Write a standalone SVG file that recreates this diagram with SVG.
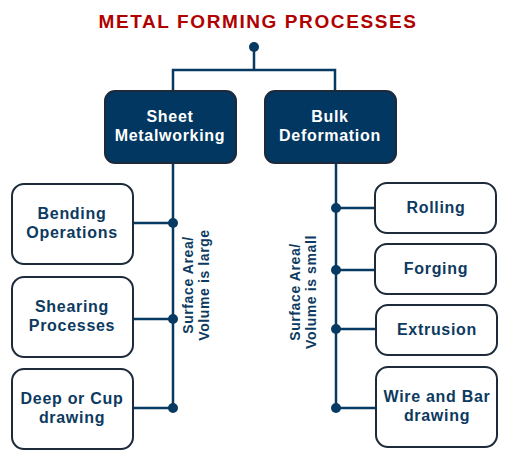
<svg xmlns="http://www.w3.org/2000/svg" width="509" height="462" viewBox="0 0 509 462">
<style>
.t{font-family:"Liberation Sans",Arial,sans-serif;font-weight:bold;font-size:16px;fill:#0d3a60;text-anchor:middle;letter-spacing:0.7px}
.w{fill:#ffffff}
.b{fill:#ffffff;stroke:#1c2a3a;stroke-width:2}
.h{fill:#023761;stroke:#1c2a3a;stroke-width:2}
.l{stroke:#063a62;stroke-width:2.5;fill:none}
.d{fill:#063a62}
.s{font-family:"Liberation Sans",Arial,sans-serif;font-weight:bold;font-size:14px;fill:#0d3a60;text-anchor:middle;letter-spacing:0.6px}
</style>
<rect width="509" height="462" fill="#ffffff"/>
<text x="258" y="28" style="font-family:'Liberation Sans',Arial,sans-serif;font-weight:bold;font-size:19px;fill:#b00000;text-anchor:middle;letter-spacing:1.6px">METAL FORMING PROCESSES</text>
<g id="connectors">
<path class="l" d="M254 47V70M173 91V70H335V91"/>
<path class="l" d="M173 163V408M133 223H173M133 319H173M133 408H173"/>
<path class="l" d="M336 163V408M336 208H375M336 270H375M336 329H375M336 408H375"/>
<circle class="d" cx="254" cy="47" r="5"/>
<circle class="d" cx="173" cy="223" r="5"/>
<circle class="d" cx="173" cy="319" r="5"/>
<circle class="d" cx="173" cy="408" r="5"/>
<circle class="d" cx="336" cy="208" r="5"/>
<circle class="d" cx="336" cy="270" r="5"/>
<circle class="d" cx="336" cy="329" r="5"/>
<circle class="d" cx="336" cy="408" r="5"/>
</g>
<g id="sheet"><rect class="h" x="105" y="91" width="131" height="72" rx="10"/><text class="t w" x="170" y="122">Sheet</text><text class="t w" x="170" y="141">Metalworking</text></g>
<g id="bulk"><rect class="h" x="265" y="91" width="131" height="72" rx="10"/><text class="t w" x="330" y="122">Bulk</text><text class="t w" x="330" y="141">Deformation</text></g>
<g id="bending"><rect class="b" x="12" y="184" width="121" height="80" rx="12"/><text class="t" x="72" y="219">Bending</text><text class="t" x="72" y="238">Operations</text></g>
<g id="shearing"><rect class="b" x="12" y="277" width="121" height="80" rx="12"/><text class="t" x="72" y="312">Shearing</text><text class="t" x="72" y="331">Processes</text></g>
<g id="deep"><rect class="b" x="12" y="369" width="121" height="80" rx="12"/><text class="t" x="72" y="404">Deep or Cup</text><text class="t" x="72" y="423">drawing</text></g>
<g id="rolling"><rect class="b" x="375" y="183" width="121" height="50" rx="12"/><text class="t" x="436" y="213">Rolling</text></g>
<g id="forging"><rect class="b" x="375" y="244" width="121" height="50" rx="12"/><text class="t" x="436" y="274">Forging</text></g>
<g id="extrusion"><rect class="b" x="376" y="305" width="121" height="50" rx="12"/><text class="t" x="437" y="335">Extrusion</text></g>
<g id="wire"><rect class="b" x="376" y="367" width="121" height="80" rx="12"/><text class="t" x="437" y="402">Wire and Bar</text><text class="t" x="437" y="421">drawing</text></g>
<g id="label-left" transform="translate(196 285) rotate(-90)"><text class="s" x="0" y="-3">Surface Area/</text><text class="s" x="0" y="13">Volume is large</text></g>
<g id="label-right" transform="translate(303 292) rotate(-90)"><text class="s" x="0" y="-3">Surface Area/</text><text class="s" x="0" y="13">Volume is small</text></g>
</svg>
